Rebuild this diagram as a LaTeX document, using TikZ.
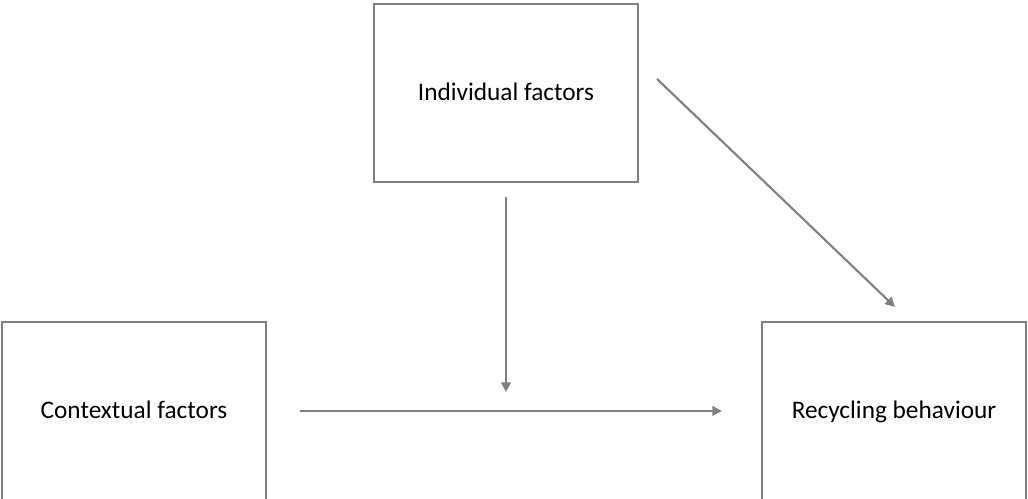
\documentclass[tikz,border=0pt]{standalone}
\usepackage{fontspec}
\setmainfont{Carlito}
\colorlet{LineaGris}{black!50}
\usetikzlibrary{calc, arrows.meta}
\tikzset{
    factor box/.style={
        draw=LineaGris, line width=1.2pt,
        minimum width=5.28cm, minimum height=3.56cm,
        text height=1.1em, text depth=0.2em,
        font=\fontsize{14.4}{17}\selectfont
    },
    flecha/.style={
        draw=LineaGris, line width=1.2pt,
        -{Triangle[length=5.5pt, width=5.5pt]}
    },
}
\begin{document}
\begin{tikzpicture}[x=0.02cm, y=-0.02cm]
\useasboundingbox (0,0) rectangle (1028,499);

% Cajas de factores
\node[factor box] (individual) at (506, 93) {Individual factors};
\node[factor box] (contextual) at (134, 411) {Contextual factors};
\node[factor box] (recycling) at (894, 411) {Recycling behaviour};

% Flechas, separadas de las cajas
\draw[flecha, shorten <=0.66cm, shorten >=0.78cm] (contextual) -- (recycling);
\draw[flecha, shorten <=0.28cm, shorten >=0.38cm]
    (individual.south) -- (individual.south |- contextual.east);
\draw[flecha] ([shift={(18,-14)}]individual.east) -- ([shift={(1,-14)}]recycling.north);
\end{tikzpicture}
\end{document}
